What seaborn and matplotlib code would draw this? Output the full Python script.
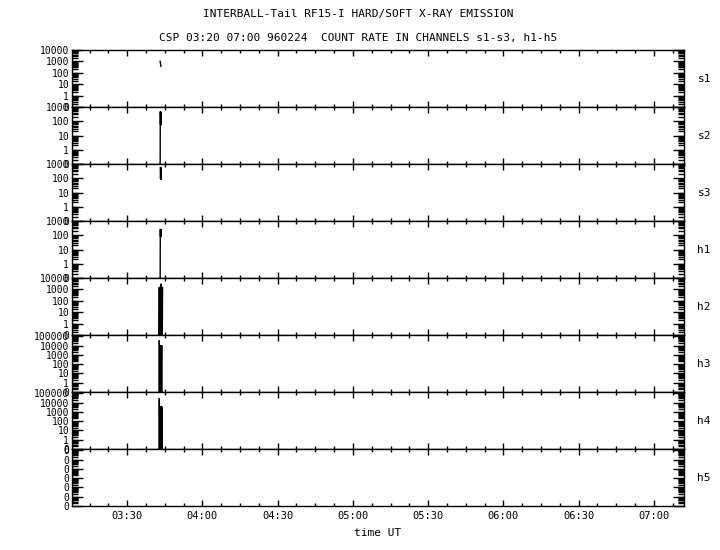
import numpy as np
import matplotlib
matplotlib.use('Agg')
import matplotlib.pyplot as plt
import matplotlib.ticker as mticker
import seaborn as sns

# channels, top to bottom
CHANNELS = ['s1', 's2', 's3', 'h1', 'h2', 'h3', 'h4', 'h5']

# time in minutes after 00:00 UT, counts per channel (0 = no counts)
t_s1 = [223.1, 223.2, 223.3, 223.5]
c_s1 = [1100, 900, 600, 350]

t_s2 = [223.0, 223.15, 223.2, 223.3, 223.4, 223.5, 223.6]
c_s2 = [0, 0, 470, 60, 450, 55, 420]

t_s3 = [223.2, 223.3, 223.4, 223.5, 223.6]
c_s3 = [590, 90, 560, 85, 500]

t_h1 = [223.0, 223.15, 223.2, 223.3, 223.4, 223.5, 223.6]
c_h1 = [0, 0, 260, 80, 250, 85, 240]

t_h2 = [222.7, 222.8, 222.9, 223.0, 223.1, 223.2, 223.3, 223.4, 223.5,
        223.6, 223.7, 223.8, 223.9, 224.0, 224.1]
c_h2 = [0, 1500, 0, 1500, 0, 1500, 0, 1500, 3000, 0, 1500, 0, 1500, 0, 1500]

t_h3 = [222.7, 222.8, 222.85, 222.95, 223.05, 223.15, 223.25, 223.35,
        223.45, 223.55, 223.65, 223.75, 223.85]
c_h3 = [0, 34000, 10000, 0, 10000, 0, 10000, 0, 10000, 0, 10000, 0, 10000]

t_h4 = [222.7, 222.8, 222.85, 222.95, 223.05, 223.15, 223.25, 223.35,
        223.45, 223.55, 223.65, 223.75, 223.85, 223.95]
c_h4 = [0, 27000, 3500, 0, 3500, 0, 3500, 0, 3500, 0, 3500, 0, 3500, 0]

t_h5 = []
c_h5 = []

# upper limit of each panel's log axis, bottom is the "0" level (0.1)
YTOP = [1e4, 1e3, 1e3, 1e3, 1e4, 1.4e5, 1.4e5, 1.4e5]
FLOOR = 0.1

XMIN, XMAX = 188, 432   # 03:08 .. 07:12

DATA = {
    's1': (t_s1, c_s1), 's2': (t_s2, c_s2), 's3': (t_s3, c_s3),
    'h1': (t_h1, c_h1), 'h2': (t_h2, c_h2), 'h3': (t_h3, c_h3),
    'h4': (t_h4, c_h4), 'h5': (t_h5, c_h5),
}

sns.set_style('ticks')
plt.rcParams.update({
    'font.family': ['DejaVu Sans Mono'],
    'axes.linewidth': 1.0,
    'axes.edgecolor': 'black',
    'text.color': 'black',
    'xtick.color': 'black',
    'ytick.color': 'black',
    'xtick.labelcolor': 'black',
    'ytick.labelcolor': 'black',
    'xtick.direction': 'in',
    'ytick.direction': 'in',
})

fig, axes = plt.subplots(len(CHANNELS), 1, figsize=(7.2, 5.5), dpi=100, sharex=True)
fig.subplots_adjust(left=0.1, right=0.95, top=0.909, bottom=0.08, hspace=0)


def fmt_time(m, _):
    m = int(round(m))
    return f'{m // 60:02d}:{m % 60:02d}'


for i, (ax, name) in enumerate(zip(axes, CHANNELS)):
    ax.set_yscale('log')
    t, c = DATA[name]
    if len(t):
        y = np.clip(np.array(c, dtype=float), FLOOR, None)
        sns.lineplot(x=t, y=y, ax=ax, color='black', lw=1.0,
                     estimator=None, sort=False)
    ax.set_ylim(FLOOR, YTOP[i])
    ax.set_xlim(XMIN, XMAX)

    # y ticks: decades, "0" at the floor
    decades = [10.0 ** k for k in range(-1, 6) if 10.0 ** k <= YTOP[i] * 1.01]
    ax.yaxis.set_major_locator(mticker.FixedLocator(decades))
    if name == 'h5':
        labels = ['0'] * len(decades)
    else:
        labels = ['0'] + [str(int(d)) for d in decades[1:]]
    ax.yaxis.set_major_formatter(mticker.FixedFormatter(labels))
    ax.yaxis.set_minor_locator(mticker.LogLocator(base=10, subs=np.arange(2, 10), numticks=20))
    ax.yaxis.set_minor_formatter(mticker.NullFormatter())
    ax.tick_params(axis='y', which='major', length=8, width=1, labelsize=7,
                   left=True, right=True, pad=2)
    ax.tick_params(axis='y', which='minor', length=4, width=1,
                   left=True, right=True)

    # x ticks every 30 min, minor every 7.5 min
    ax.xaxis.set_major_locator(mticker.MultipleLocator(30))
    ax.xaxis.set_minor_locator(mticker.MultipleLocator(7.5))
    ax.xaxis.set_major_formatter(mticker.FuncFormatter(fmt_time))
    ax.tick_params(axis='x', which='major', length=4.5, width=1,
                   top=True, bottom=True, labelsize=7.5)
    ax.tick_params(axis='x', which='minor', length=2.5, width=1,
                   top=True, bottom=True)
    ax.set_xlabel('')
    ax.set_ylabel('')
    for sp in ax.spines.values():
        sp.set_visible(True)
        sp.set_color('black')

    ax.text(1.022, 0.5, name, transform=ax.transAxes, va='center', ha='left',
            fontsize=8)

fig.text(0.497, 1 - 14 / 550, 'INTERBALL-Tail RF15-I HARD/SOFT X-RAY EMISSION',
         ha='center', va='center', fontsize=8)
fig.text(0.497, 1 - 38 / 550,
         'CSP 03:20 07:00 960224  COUNT RATE IN CHANNELS s1-s3, h1-h5',
         ha='center', va='center', fontsize=8)
fig.text(378 / 720, 1 - 533 / 550, 'time UT', ha='center', va='center', fontsize=8)

plt.savefig('out.png', dpi=100, facecolor='white')
plt.close()
